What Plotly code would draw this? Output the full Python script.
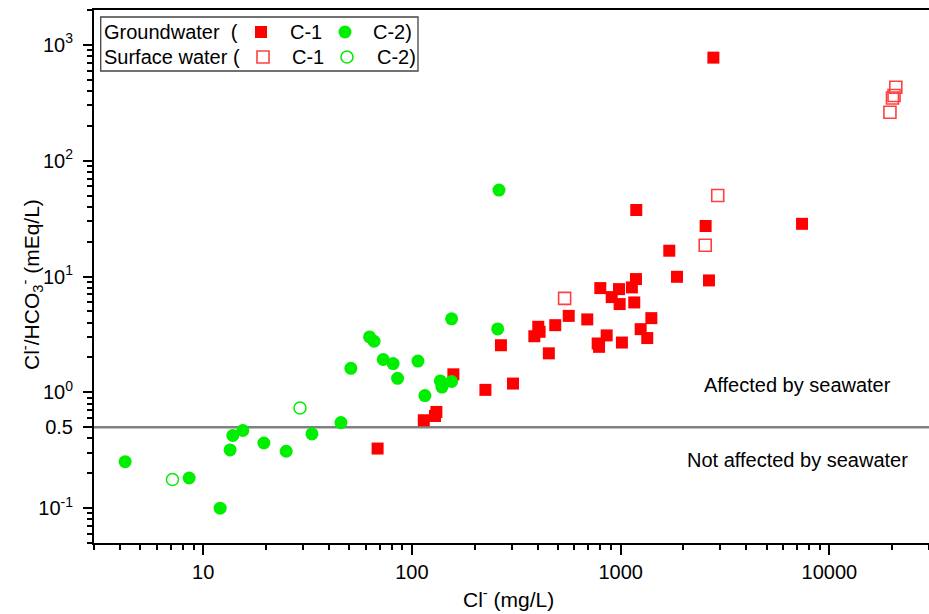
import math
import plotly.graph_objects as go

# ---------------- data ----------------
# Groundwater, C-1 (filled red squares)
gw_c1_cl = [68.5, 114, 129, 131, 158, 225, 305, 267, 386, 403, 409, 453, 486, 564,
            692, 776, 788, 799, 857, 906, 982, 989, 1014, 1132, 1184, 1162, 1188,
            1247, 1341, 1403, 1710, 1862, 2553, 2649, 2781, 7396]
gw_c1_ratio = [0.327, 0.574, 0.625, 0.677, 1.43, 1.05, 1.19, 2.55, 3.05, 3.68, 3.33,
               2.17, 3.80, 4.57, 4.26, 2.64, 2.47, 7.94, 3.10, 6.64, 7.78, 5.78, 2.69,
               8.05, 9.50, 5.97, 37.5, 3.51, 2.94, 4.37, 16.7, 9.94, 27.3, 9.25, 776, 28.5]

# Surface water, C-1 (open red squares)
sw_c1_cl = [539, 2541, 2918, 20800, 20400, 20050, 19500]
sw_c1_ratio = [6.47, 18.6, 50.0, 431, 365, 348, 262]

# Groundwater, C-2 (filled green circles)
gw_c2_cl = [4.23, 8.57, 12.06, 13.46, 13.87, 15.49, 19.54, 24.99, 33.2, 45.7, 51.0,
            62.7, 65.9, 72.9, 81.3, 85.4, 106.9, 115.4, 136.8, 139.3, 155.0, 155.0,
            257.6, 261.3]
gw_c2_ratio = [0.252, 0.182, 0.100, 0.318, 0.424, 0.468, 0.365, 0.310, 0.437, 0.548,
               1.61, 3.01, 2.76, 1.92, 1.77, 1.32, 1.86, 0.938, 1.255, 1.11, 1.24,
               4.31, 3.53, 55.8]

# Surface water, C-2 (open green circles)
sw_c2_cl = [7.13, 29.1]
sw_c2_ratio = [0.177, 0.733]

threshold = 0.5

x_tick_vals = [10, 100, 1000, 10000]
x_tick_text = ["10", "100", "1000", "10000"]
y_tick_vals = [0.1, 0.5, 1, 10, 100, 1000]
y_tick_text = ["10<sup>-1</sup>", "0.5", "10<sup>0</sup>", "10<sup>1</sup>",
               "10<sup>2</sup>", "10<sup>3</sup>"]

# ---------------- styling ----------------
RED = "#ff0000"
GREEN = "#00ee00"
FONT = "Arial, Liberation Sans, sans-serif"

x_minor = [m * 10 ** d for d in range(0, 5) for m in range(2, 10)
           if 3 <= m * 10 ** d <= 30000 and m * 10 ** d not in x_tick_vals]
y_minor = [round(m * 10 ** d, 6) for d in range(-2, 4) for m in range(2, 10)
           if 0.05 <= m * 10 ** d <= 2000 and round(m * 10 ** d, 6) not in y_tick_vals]

fig = go.Figure()

fig.add_trace(go.Scatter(x=gw_c1_cl, y=gw_c1_ratio, mode="markers",
                         marker=dict(symbol="square", size=12, color=RED, line=dict(width=0)),
                         showlegend=False))
fig.add_trace(go.Scatter(x=sw_c1_cl, y=sw_c1_ratio, mode="markers",
                         marker=dict(symbol="square-open", size=12, color="#ff4040",
                                     line=dict(width=1.6, color="#ff4040")),
                         showlegend=False))
fig.add_trace(go.Scatter(x=gw_c2_cl, y=gw_c2_ratio, mode="markers",
                         marker=dict(symbol="circle", size=13, color=GREEN, line=dict(width=0)),
                         showlegend=False))
fig.add_trace(go.Scatter(x=sw_c2_cl, y=sw_c2_ratio, mode="markers",
                         marker=dict(symbol="circle-open", size=12, color=GREEN,
                                     line=dict(width=1.5, color=GREEN)),
                         showlegend=False))

fig.add_hline(y=threshold, line=dict(color="#808080", width=2.5), layer="below")

# ---------------- custom legend (overlay axes in 0..1) ----------------
leg_x = [0.2, 0.3006, 0.2024, 0.303]
leg_y = [0.9587, 0.9587, 0.9118, 0.9118]
leg_sym = ["square", "circle", "square-open", "circle-open"]
leg_col = [RED, GREEN, "#ff4040", GREEN]
leg_size = [12, 13, 12, 12]
for xx, yy, s, c, sz in zip(leg_x, leg_y, leg_sym, leg_col, leg_size):
    fig.add_trace(go.Scatter(x=[xx], y=[yy], xaxis="x2", yaxis="y2", mode="markers",
                             marker=dict(symbol=s, size=sz, color=c,
                                         line=dict(width=1.6 if "open" in s else 0, color=c)),
                             showlegend=False, hoverinfo="skip"))

W, H = 929, 614
ML, MR, MT, MB = 94, 0, 10, 71
PW, PH = W - ML - MR, H - MT - MB


def px(x):
    return (x - ML) / PW


def py(y):
    return (H - MB - y) / PH


fig.add_shape(type="rect", xref="paper", yref="paper",
              x0=px(100.7), x1=px(418), y0=py(71), y1=py(17),
              line=dict(color="#444444", width=1.3), fillcolor="rgba(0,0,0,0)")

legend_texts = [
    ("Groundwater\u00a0\u00a0(", 102, 32),
    ("C-1", 288, 32),
    ("C-2)", 371, 32),
    ("Surface water (", 102, 57),
    ("C-1", 290, 57),
    ("C-2)", 375, 57),
]
for t, xx, yy in legend_texts:
    fig.add_annotation(text=t, xref="paper", yref="paper", x=px(xx), y=py(yy),
                       xanchor="left", yanchor="middle", showarrow=False,
                       font=dict(family=FONT, size=20, color="black"))

fig.add_annotation(text="Affected by seawater", xref="paper", yref="paper",
                   x=px(797), y=py(385), xanchor="center", yanchor="middle",
                   showarrow=False, font=dict(family=FONT, size=20, color="black"))
fig.add_annotation(text="Not affected by seawater", xref="paper", yref="paper",
                   x=px(797), y=py(460), xanchor="center", yanchor="middle",
                   showarrow=False, font=dict(family=FONT, size=20, color="black"))

# axis titles
fig.add_annotation(text="Cl<sup>-</sup> (mg/L)", xref="paper", yref="paper",
                   x=px(508), y=py(598), xanchor="center", yanchor="middle",
                   showarrow=False, font=dict(family=FONT, size=21, color="black"))
fig.add_annotation(text="Cl<sup>-</sup>/HCO<sub>3</sub><sup>-</sup> (mEq/L)",
                   xref="paper", yref="paper", x=px(31), y=py(285),
                   xanchor="center", yanchor="middle", textangle=-90,
                   showarrow=False, font=dict(family=FONT, size=21, color="black"))

fig.update_layout(
    width=W, height=H,
    margin=dict(l=ML, r=MR, t=MT, b=MB, pad=0),
    paper_bgcolor="white", plot_bgcolor="white",
    font=dict(family=FONT, size=20, color="black"),
    showlegend=False,
    xaxis=dict(type="log", range=[math.log10(3), math.log10(30000)],
               tickmode="array", tickvals=x_tick_vals, ticktext=x_tick_text,
               ticks="outside", ticklen=10, tickwidth=2, tickcolor="black",
               showline=True, linecolor="black", linewidth=2, mirror=True,
               showgrid=False, zeroline=False,
               minor=dict(tickmode="array", tickvals=x_minor, ticks="outside",
                          ticklen=5, tickwidth=1.5, tickcolor="black", showgrid=False),
               tickfont=dict(size=20),
               automargin=False),
    yaxis=dict(type="log", range=[math.log10(0.05), math.log10(2000)],
               tickmode="array", tickvals=y_tick_vals, ticktext=y_tick_text,
               ticks="outside", ticklen=9, tickwidth=2, tickcolor="black",
               showline=True, linecolor="black", linewidth=2, mirror=False,
               showgrid=False, zeroline=False,
               minor=dict(tickmode="array", tickvals=y_minor, ticks="outside",
                          ticklen=5, tickwidth=1.5, tickcolor="black", showgrid=False),
               tickfont=dict(size=20), ticklabelstandoff=6,
               automargin=False),
    xaxis2=dict(overlaying="x", range=[0, 1], visible=False, fixedrange=True),
    yaxis2=dict(overlaying="y", range=[0, 1], visible=False, fixedrange=True),
)

fig.write_html("out.html")
